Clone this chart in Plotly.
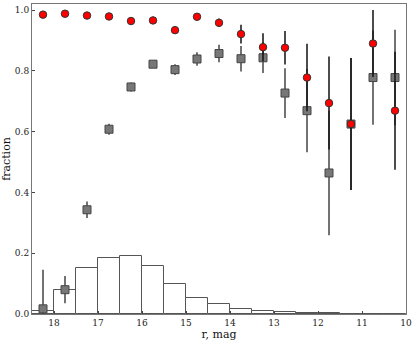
import plotly.graph_objects as go

# magnitude bins (centres), 0.5 mag wide
mag = [18.25, 17.75, 17.25, 16.75, 16.25, 15.75, 15.25, 14.75, 14.25,
       13.75, 13.25, 12.75, 12.25, 11.75, 11.25, 10.75, 10.25]

# histogram of the sample (normalised)
hist = [0.011, 0.079, 0.151, 0.184, 0.190, 0.158, 0.100, 0.054, 0.033,
        0.016, 0.010, 0.0066, 0.003, 0.002, 0.0012, 0.001, 0.001]

# red circles
frac_red = [0.985, 0.988, 0.982, 0.979, 0.964, 0.966, 0.934, 0.978, 0.958,
            0.921, 0.878, 0.876, 0.778, 0.694, 0.625, 0.890, 0.669]
err_red = [0.010, 0.005, 0.004, 0.004, 0.005, 0.005, 0.006, 0.006, 0.014,
           0.031, 0.046, 0.055, 0.111, 0.153, 0.217, 0.110, 0.194]

# grey squares
frac_grey = [0.017, 0.080, 0.343, 0.608, 0.747, 0.822, 0.804, 0.839, 0.857,
             0.840, 0.843, 0.727, 0.669, 0.464, 0.625, 0.778, 0.778]
err_grey = [0.129, 0.045, 0.027, 0.018, 0.015, 0.010, 0.018, 0.022, 0.029,
            0.042, 0.050, 0.082, 0.137, 0.205, 0.217, 0.155, 0.157]

fig = go.Figure()

fig.add_trace(go.Bar(
    x=mag, y=hist, width=0.5,
    marker=dict(color="white", line=dict(color="#555555", width=1)),
    showlegend=False,
))

fig.add_trace(go.Scatter(
    x=mag, y=frac_grey, mode="markers",
    marker=dict(symbol="square", size=8, color="#777777",
                line=dict(color="#444444", width=1)),
    error_y=dict(type="data", array=err_grey, color="#444444",
                 thickness=1.5, width=0),
    showlegend=False,
))

fig.add_trace(go.Scatter(
    x=mag, y=frac_red, mode="markers",
    marker=dict(symbol="circle", size=7.5, color="#ff0000",
                line=dict(color="#333333", width=1)),
    error_y=dict(type="data", array=err_red, color="#111111",
                 thickness=1.5, width=0),
    showlegend=False,
))

axis_style = dict(
    showline=True, linecolor="#777777", linewidth=1, mirror=True,
    ticks="inside", ticklen=3, tickcolor="#444444",
    showgrid=False, zeroline=False,
    tickfont=dict(family="DejaVu Serif", size=9, color="#222222"),
)

fig.update_layout(
    width=416, height=341,
    margin=dict(l=32, r=10, t=4, b=27),
    plot_bgcolor="white", paper_bgcolor="white",
    bargap=0,
    xaxis=dict(range=[18.5, 10], tickvals=[18, 17, 16, 15, 14, 13, 12, 11, 10],
               title=dict(text="r, mag", standoff=2,
                          font=dict(family="DejaVu Serif", size=11, color="#111111")),
               **axis_style),
    yaxis=dict(range=[0, 1.02], tickvals=[0, 0.2, 0.4, 0.6, 0.8, 1.0], tickformat=".1f",
               title=dict(text="fraction", standoff=4,
                          font=dict(family="DejaVu Serif", size=11, color="#111111")),
               **axis_style),
)

# remove the default page margin so the figure sits at the window corner
fig.write_html("out.html", config={"displayModeBar": False},
               post_script="document.body.style.margin='0';")
